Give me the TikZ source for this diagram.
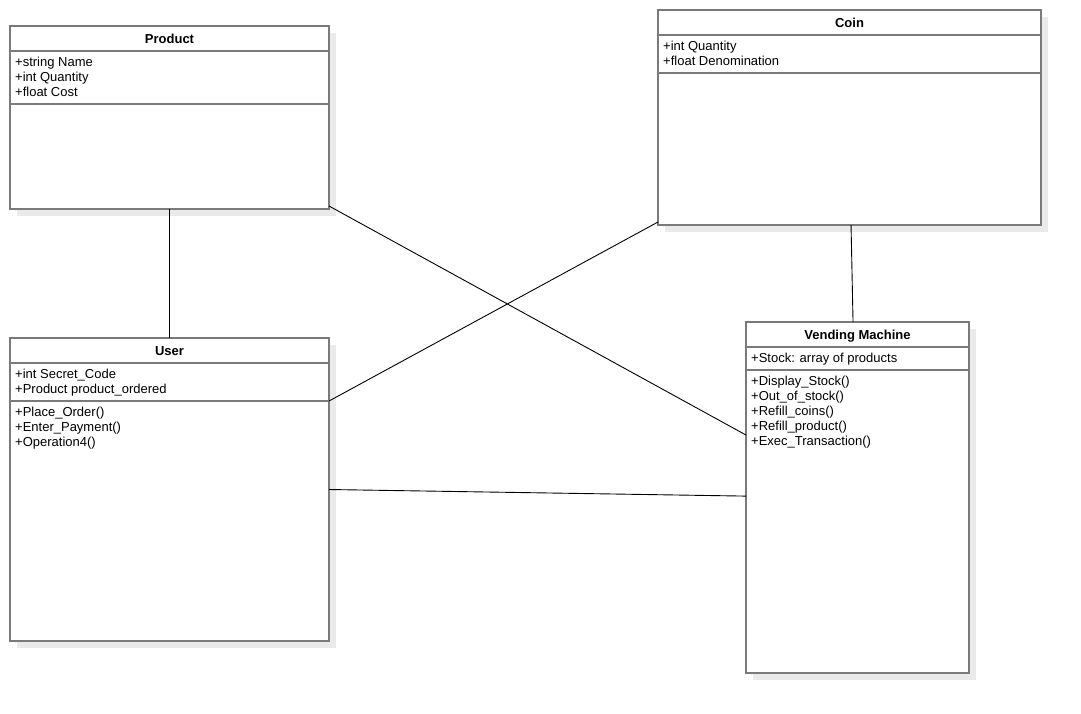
\documentclass[tikz,border=0pt]{standalone}
\usepackage{fontspec}
\setmainfont{Liberation Sans}
\usetikzlibrary{calc,shadows}
\definecolor{boxgray}{RGB}{122,122,122}
\definecolor{shadowgray}{RGB}{234,234,234}
\tikzset{
  classbox/.style={draw=boxgray, line width=1.6pt, fill=white, inner sep=0pt, outer sep=0pt, anchor=north west,
    drop shadow={shadow xshift=7pt, shadow yshift=-7pt, fill=shadowgray, opacity=1}},
  sepline/.style={draw=boxgray, line width=1.6pt},
  classtitle/.style={font=\fontsize{13}{15}\selectfont\bfseries, anchor=base, inner sep=0pt},
  member/.style={font=\fontsize{13}{15}\selectfont, anchor=base west, inner sep=0pt},
  assoc/.style={draw=black, line width=0.9pt}
}
\begin{document}
\begin{tikzpicture}[x=1pt,y=-1pt]
\useasboundingbox[fill=white] (0,0) rectangle (1081,713);
% class boxes
\node[classbox, minimum width=319pt, minimum height=183pt] (product) at (10,26) {};
\node[classbox, minimum width=383pt, minimum height=215pt] (coin) at (658,10) {};
\node[classbox, minimum width=319pt, minimum height=303pt] (user) at (10,338) {};
\node[classbox, minimum width=223pt, minimum height=351pt] (vm) at (746,322) {};
% compartment separators
\draw[sepline] ([yshift=-25pt]product.north west) -- ([yshift=-25pt]product.north east);
\draw[sepline] ([yshift=-78pt]product.north west) -- ([yshift=-78pt]product.north east);
\draw[sepline] ([yshift=-25pt]coin.north west) -- ([yshift=-25pt]coin.north east);
\draw[sepline] ([yshift=-63pt]coin.north west) -- ([yshift=-63pt]coin.north east);
\draw[sepline] ([yshift=-25pt]user.north west) -- ([yshift=-25pt]user.north east);
\draw[sepline] ([yshift=-63pt]user.north west) -- ([yshift=-63pt]user.north east);
\draw[sepline] ([yshift=-25pt]vm.north west) -- ([yshift=-25pt]vm.north east);
\draw[sepline] ([yshift=-48pt]vm.north west) -- ([yshift=-48pt]vm.north east);
% titles
\node[classtitle] (ptitle) at ($(product.north)+(0,17)$) {Product};
\node[classtitle] (ctitle) at ($(coin.north)+(0,17)$) {Coin};
\node[classtitle] (utitle) at ($(user.north)+(0,17)$) {User};
\node[classtitle] (vtitle) at ($(vm.north)+(0,17)$) {Vending Machine};
% members
\foreach \t [count=\i] in {+string Name,+int Quantity,+float Cost}
  \node[member] (pa\i) at ($(product.north west)+(5,{40.5+15*(\i-1)})$) {\t};
\foreach \t [count=\i] in {+int Quantity,+float Denomination}
  \node[member] (ca\i) at ($(coin.north west)+(5,{40+15*(\i-1)})$) {\t};
\foreach \t [count=\i] in {+int Secret\_Code,+Product product\_ordered}
  \node[member] (ua\i) at ($(user.north west)+(5,{40+15*(\i-1)})$) {\t};
\foreach \t [count=\i] in {+Place\_Order(),+Enter\_Payment(),+Operation4()}
  \node[member] (um\i) at ($(user.north west)+(5,{78+15*(\i-1)})$) {\t};
\foreach \t [count=\i] in {+Stock: array of products}
  \node[member] (va\i) at ($(vm.north west)+(5,{40+15*(\i-1)})$) {\t};
\foreach \t [count=\i] in {+Display\_Stock(),+Out\_of\_stock(),+Refill\_coins(),+Refill\_product(),+Exec\_Transaction()}
  \node[member] (vmm\i) at ($(vm.north west)+(5,{63+15*(\i-1)})$) {\t};
% associations
\draw[assoc] (product.south) -- (user.north);
\draw[assoc] ([yshift=3pt]product.south east) -- ($(vm.north west)!0.322!(vm.south west)$);
\draw[assoc] ([yshift=3pt]coin.south west) -- ($(user.north east)!0.208!(user.south east)$);
\draw[assoc] ($(coin.south west)!0.504!(coin.south east)$) -- ($(vm.north west)!0.48!(vm.north east)$);
\draw[assoc] (user.east) -- ($(vm.north west)!0.496!(vm.south west)$);
\end{tikzpicture}
\end{document}
